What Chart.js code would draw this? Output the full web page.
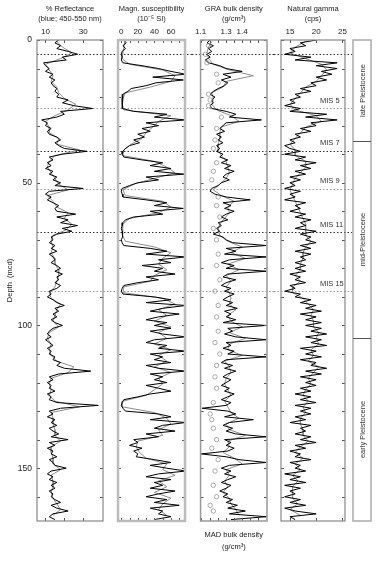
<!DOCTYPE html>
<html>
<head>
<meta charset="utf-8">
<script src="https://cdn.jsdelivr.net/npm/chart.js@4.4.1/dist/chart.umd.min.js"></script>
<style>
  html, body { margin: 0; padding: 0; background: #fff; }
  #figure { position: relative; width: 378px; height: 566px; }
  #figure canvas { position: absolute; top: 0; }
</style>
</head>
<body>
<div id="figure">
  <canvas id="panelRefl" width="110" height="566" style="left:0px"></canvas>
  <canvas id="panelMagsus" width="82" height="566" style="left:110px"></canvas>
  <canvas id="panelGra" width="82" height="566" style="left:192px"></canvas>
  <canvas id="panelGamma" width="104" height="566" style="left:274px"></canvas>
</div>
<script>
// depth of the first sample and spacing (mcd) for the black and grey records
const blackStart = 0, blackStep = 1;
const grayStart = 0.5, grayStep = 2;

// % reflectance (blue), one value per metre, 0-168 mcd
const reflBlack = [
  17,15,18,16,22,27,19,21,9,10,
  12,10,14,12,15,13,14,16,15,17,
  16,22,19,25,35,18,20,16,8,11,
  10,13,11,12,16,18,15,17,20,32,
  19,12,14,11,13,10,14,12,16,14,
  18,15,30,12,10,13,11,14,17,15,
  16,26,16,22,18,27,19,24,16,13,
  14,12,15,13,16,12,14,15,13,16,
  18,15,19,16,17,15,18,16,12,13,
  11,14,16,20,15,17,14,16,13,15,
  19,14,12,11,13,10,12,14,11,13,
  12,15,14,18,16,20,34,17,12,14,
  11,13,12,15,11,13,12,16,38,18,
  12,14,11,15,13,16,12,14,17,13,
  22,12,15,11,14,13,16,12,14,15,
  21,13,11,14,12,16,13,15,12,14,
  13,15,18,13,16,22,14,12,15
];
const reflGray = [
  16,19,24,18,10,12,14,13,16,17,
  20,26,22,15,10,12,12,17,16,28,
  15,12,11,13,15,17,22,11,14,16,
  22,20,24,21,14,13,14,13,15,15,
  17,17,16,15,12,13,18,16,15,14,
  17,12,11,13,12,13,16,25,22,13,
  12,13,12,15,28,13,14,14,15,15,
  18,13,13,14,14,18,13,14,14,13,
  14,16,18,14
];

// magnetic susceptibility (10^-5 SI)
const magBlack = [
  3,6,2,5,1,0,1,0,2,25,
  45,60,78,38,75,42,30,12,8,2,
  1,1,1,2,1,15,55,40,78,30,
  45,25,35,20,28,15,22,10,5,2,
  1,3,25,50,35,60,40,76,30,45,
  20,10,1,0,1,2,30,55,40,75,
  35,50,15,5,2,1,0,1,2,1,
  0,1,3,35,55,30,78,45,60,25,
  50,40,65,30,45,20,3,1,0,2,
  40,60,30,78,50,35,70,45,30,55,
  40,60,35,50,78,40,30,55,45,78,
  35,50,40,60,30,45,78,35,50,40,
  55,30,45,60,35,20,3,1,0,2,
  5,45,60,35,78,50,40,65,30,45,
  15,20,10,25,15,20,18,40,60,35,
  55,78,45,30,60,40,50,35,65,45,
  30,55,40,70,35,50,45,60,40
];
const magGray = [
  4,3,2,1,10,50,65,60,35,5,
  2,1,3,60,45,38,30,25,12,3,
  2,40,55,65,40,15,2,5,50,60,
  45,10,2,1,2,5,40,60,50,45,
  55,40,35,3,2,50,65,45,55,40,
  60,45,55,40,60,45,55,40,60,45,
  50,40,30,2,1,40,55,60,45,50,
  20,18,22,30,55,50,65,45,55,40,
  60,50,45,55
];

// GRA bulk density (g/cm3)
const graBlack = [
  1.20,1.18,1.22,1.19,1.21,1.18,1.20,1.17,1.19,1.26,
  1.30,1.40,1.28,1.33,1.27,1.31,1.29,1.25,1.22,1.20,
  1.23,1.21,1.22,1.20,1.21,1.30,1.36,1.32,1.52,1.30,
  1.28,1.26,1.29,1.24,1.27,1.25,1.28,1.24,1.26,1.24,
  1.28,1.26,1.31,1.27,1.33,1.29,1.35,1.30,1.28,1.32,
  1.27,1.25,1.21,1.20,1.23,1.30,1.45,1.28,1.33,1.29,
  1.35,1.30,1.27,1.31,1.25,1.27,1.24,1.26,1.22,1.28,
  1.30,1.34,1.55,1.30,1.36,1.29,1.55,1.32,1.27,1.35,
  1.30,1.55,1.31,1.28,1.36,1.30,1.27,1.33,1.29,1.35,
  1.31,1.28,1.34,1.30,1.37,1.29,1.33,1.30,1.36,1.28,
  1.55,1.31,1.34,1.29,1.36,1.55,1.30,1.33,1.28,1.35,
  1.31,1.55,1.30,1.27,1.34,1.29,1.36,1.31,1.28,1.33,
  1.30,1.27,1.32,1.29,1.35,1.31,1.27,1.33,1.30,1.15,
  1.31,1.36,1.29,1.47,1.32,1.28,1.34,1.30,1.36,1.55,
  1.29,1.33,1.30,1.35,1.31,1.145,1.30,1.38,1.55,1.32,
  1.27,1.33,1.29,1.36,1.31,1.27,1.33,1.30,1.26,1.31,
  1.28,1.34,1.30,1.37,1.31,1.42,1.32,1.55,1.33
];
const graGray = [
  1.21,1.19,1.18,1.19,1.22,1.32,1.47,1.30,1.28,1.21,
  1.22,1.21,1.24,1.33,1.38,1.27,1.26,1.26,1.25,1.25,
  1.27,1.30,1.31,1.32,1.30,1.26,1.22,1.27,1.35,1.31,
  1.32,1.29,1.26,1.25,1.26,1.31,1.40,1.33,1.42,1.31,
  1.38,1.30,1.33,1.30,1.32,1.33,1.32,1.36,1.31,1.33,
  1.40,1.32,1.42,1.32,1.31,1.40,1.29,1.32,1.33,1.30,
  1.29,1.31,1.33,1.29,1.31,1.33,1.38,1.30,1.32,1.42,
  1.31,1.32,1.28,1.35,1.40,1.30,1.32,1.29,1.31,1.28,
  1.32,1.33,1.36,1.38
];

// MAD bulk density discrete samples
const madDepths = [2,5,8,12,15,19,21,23,27,31,35,38,43,46,49,55,58,62,66,70,75,79,84,88,93,97,102,106,110,114,118,122,127,131,133,136,140,143,147,151,156,160,163,165];
const madDensity = [1.19,1.17,1.18,1.24,1.25,1.19,1.20,1.19,1.27,1.24,1.23,1.22,1.24,1.22,1.21,1.25,1.24,1.26,1.22,1.24,1.25,1.24,1.26,1.23,1.25,1.24,1.25,1.23,1.26,1.24,1.23,1.24,1.22,1.20,1.21,1.22,1.24,1.21,1.25,1.23,1.22,1.24,1.20,1.22];

// natural gamma (cps)
const gammaBlack = [
  20,17,18,15,16,14,19,16,24,20,
  24,21,23,20,22,19,20,17,19,16,
  17,15,16,14,17,15,22,18,24,19,
  20,17,19,16,17,15,16,14,15,17,
  14,18,16,20,17,19,16,18,15,17,
  15,16,14,17,15,16,14,18,16,17,
  15,18,16,19,17,18,16,20,17,19,
  18,20,17,19,16,19,17,18,16,18,
  16,18,15,17,16,18,15,16,14,17,
  16,19,17,20,18,21,17,20,18,21,
  18,21,19,22,18,21,19,22,17,20,
  18,21,17,20,19,22,18,21,17,20,
  18,20,17,19,16,19,17,20,16,19,
  17,19,16,18,15,19,17,18,16,19,
  17,20,16,18,15,17,16,19,15,17,
  16,18,14,17,15,18,14,17,15,16,
  14,17,15,18,14,16,20,15,16
];
const gammaGray = [
  18,16,15,18,21,22,21,20,18,17,
  16,15,16,20,21,18,17,16,15,16,
  16,18,18,17,16,15.5,15,15.5,16,16.5,
  17,17.5,18,18,18,19,18,17.5,17.5,17,
  17,16,17,15.5,15.5,17.5,18.5,19.5,19,19.5,
  19.5,20.5,20,20.5,19,19.5,18.5,20.5,19.5,18.5,
  19,18,17.5,18.5,17.5,18,17,17,17.5,17.5,
  18.5,17,16,17.5,16,17,15.5,16.5,15.5,15.5,
  15.5,16.5,15,17
];

// depth axis, dotted correlation lines, MIS labels, epochs
const depthTicks = [0,10,20,30,40,50,60,70,80,90,100,110,120,130,140,150,160];
const depthLabels = [0,50,100,150];
const markerDepths = [4.9, 23.9, 38.9, 52.2, 67.3, 87.9];
const markerShades = ['#333','#999','#333','#999','#333','#999'];
const misLabels = ['MIS 5','MIS 7','MIS 9','MIS 11','MIS 15'];
const misDepths = [21.4, 36.2, 49.4, 64.8, 85.5];
const epochNames = ['late Pleistocene','mid-Pleistocene','early Pleistocene'];
const epochBounds = [0, 35.4, 104.4, 168.5];

// top axis ticks
const reflTicks = [10,20,30], reflTickLabels = ['10','','30'];
const magTicks = [0,10,20,30,40,50,60,70], magTickLabels = ['0','','20','','40','','60',''];
const graTicks = [1.14,1.2,1.25,1.3,1.35,1.4,1.45,1.5], graTickLabels = ['1.1','','','1.3','','1.4','',''];
const gammaTicks = [15,20,25], gammaTickLabels = ['15','20','25'];

const FONT = "'Liberation Sans', Arial, sans-serif";
const DEPTH_MAX = 168.5;

function toPoints(values, start, step) {
  return values.map((v, i) => ({ x: v, y: start + i * step }));
}

// frame, inward ticks, dotted lines and annotations for each panel
const panelDecor = {
  id: 'panelDecor',
  beforeDatasetsDraw(chart, args, o) {
    const { ctx, chartArea: a } = chart;
    const yS = chart.scales.y;
    ctx.save();
    ctx.lineWidth = 1;
    ctx.setLineDash([1.5, 2]);
    markerDepths.forEach((d, i) => {
      const py = Math.round(yS.getPixelForValue(d)) + 0.5;
      ctx.strokeStyle = markerShades[i];
      ctx.beginPath();
      ctx.moveTo(o.fromArea ? a.left : 0, py);
      ctx.lineTo(o.lineEnd || chart.width, py);
      ctx.stroke();
    });
    ctx.restore();
  },
  afterDatasetsDraw(chart, args, o) {
    const { ctx, chartArea: a } = chart;
    const xS = chart.scales.x, yS = chart.scales.y;
    ctx.save();
    ctx.strokeStyle = '#555';
    ctx.lineWidth = 1;
    ctx.beginPath();
    depthTicks.forEach(d => {
      const py = Math.round(yS.getPixelForValue(d)) + 0.5;
      ctx.moveTo(a.left, py); ctx.lineTo(a.left + 3, py);
      ctx.moveTo(a.right - 3, py); ctx.lineTo(a.right, py);
    });
    xS.ticks.forEach(t => {
      const px = Math.round(xS.getPixelForValue(t.value)) + 0.5;
      ctx.moveTo(px, a.top); ctx.lineTo(px, a.top + 3);
      ctx.moveTo(px, a.bottom - 3); ctx.lineTo(px, a.bottom);
    });
    ctx.stroke();

    ctx.strokeStyle = o.frameColor || '#999';
    ctx.lineWidth = o.frameWidth || 1.5;
    ctx.strokeRect(a.left, a.top, a.right - a.left, a.bottom - a.top);

    ctx.fillStyle = '#333';
    ctx.font = '7.5px ' + FONT;
    if (o.mis) {
      ctx.textAlign = 'left';
      ctx.textBaseline = 'middle';
      misLabels.forEach((t, i) => ctx.fillText(t, a.left + 39, yS.getPixelForValue(misDepths[i])));
    }
    if (o.epochBox) {
      const [x0, x1] = o.epochBox;
      const top = yS.getPixelForValue(epochBounds[0]);
      const bot = yS.getPixelForValue(epochBounds[epochBounds.length - 1]);
      ctx.strokeStyle = '#aaa';
      ctx.lineWidth = 1.5;
      ctx.strokeRect(x0, top, x1 - x0, bot - top);
      ctx.strokeStyle = '#555';
      ctx.lineWidth = 1;
      for (let i = 1; i < epochBounds.length - 1; i++) {
        const py = Math.round(yS.getPixelForValue(epochBounds[i])) + 0.5;
        ctx.beginPath(); ctx.moveTo(x0, py); ctx.lineTo(x1, py); ctx.stroke();
      }
      ctx.textAlign = 'center';
      ctx.textBaseline = 'middle';
      epochNames.forEach((name, i) => {
        const mid = (yS.getPixelForValue(epochBounds[i]) + yS.getPixelForValue(epochBounds[i + 1])) / 2;
        ctx.save();
        ctx.translate((x0 + x1) / 2 + 0.5, mid);
        ctx.rotate(-Math.PI / 2);
        ctx.fillText(name, 0, 0);
        ctx.restore();
      });
    }
    ctx.restore();
  }
};

function makePanel(canvasId, p) {
  const datasets = [];
  if (p.circles) {
    datasets.push({
      data: p.circles, xAxisID: 'x2', showLine: false,
      pointRadius: 2.2, pointBorderWidth: 0.7,
      pointBorderColor: '#888', pointBackgroundColor: 'rgba(0,0,0,0)'
    });
  }
  datasets.push({
    data: toPoints(p.black, blackStart, blackStep), showLine: true,
    borderColor: '#000', borderWidth: 1, pointRadius: 0, tension: 0
  });
  datasets.push({
    data: toPoints(p.gray, grayStart, grayStep), showLine: true,
    borderColor: '#8c8c8c', borderWidth: 1, pointRadius: 0, tension: 0
  });

  const setTicks = (vals) => (s) => { s.ticks = vals.map(v => ({ value: v })); };
  const xAxis = {
    type: 'linear', position: 'top', min: p.min, max: p.max,
    afterBuildTicks: setTicks(p.ticks),
    afterFit: (s) => { s.height = 40; },
    grid: { display: false, drawTicks: false },
    border: { display: false },
    ticks: {
      autoSkip: false, maxRotation: 0, padding: 3, color: '#222',
      font: { family: FONT, size: 8 },
      callback: (v, i) => p.tickLabels[i]
    },
    title: {
      display: true, text: p.title, color: '#222',
      font: { family: FONT, size: 7.5, lineHeight: 1.45 },
      padding: { top: 3, bottom: 0 }
    }
  };
  const yAxis = {
    type: 'linear', reverse: true, min: 0, max: DEPTH_MAX,
    display: !!p.depthAxis,
    afterBuildTicks: setTicks(depthTicks),
    grid: { display: false, drawTicks: false },
    border: { display: false },
    ticks: {
      autoSkip: false, padding: 5, color: '#222',
      font: { family: FONT, size: 8.5 },
      callback: (v) => depthLabels.includes(v) ? String(v) : ''
    },
    title: {
      display: true, text: 'Depth  (mcd)', color: '#222',
      font: { family: FONT, size: 7.5 },
      padding: { top: 5, bottom: 0 }
    }
  };
  if (p.depthAxis) yAxis.afterFit = (s) => { s.width = 37; };
  const scales = { x: xAxis, y: yAxis };
  if (p.bottomAxis) {
    scales.x2 = {
      type: 'linear', position: 'bottom', min: p.min, max: p.max,
      afterBuildTicks: setTicks(p.ticks),
      afterFit: (s) => { s.height = 45; },
      grid: { display: false, drawTicks: false },
      border: { display: false },
      ticks: { display: false },
      title: {
        display: true, text: p.bottomAxis, color: '#222',
        font: { family: FONT, size: 7.5, lineHeight: 1.6 },
        padding: { top: 0, bottom: 13 }
      }
    };
  }

  return new Chart(document.getElementById(canvasId), {
    type: 'scatter',
    data: { datasets },
    options: {
      responsive: false, animation: false, devicePixelRatio: 1,
      layout: { padding: { left: p.pad[0], right: p.pad[1], top: 0, bottom: p.bottomAxis ? 0 : 45 } },
      scales,
      plugins: {
        legend: { display: false },
        tooltip: { enabled: false },
        panelDecor: p.decor
      }
    },
    plugins: [panelDecor]
  });
}

makePanel('panelRefl', {
  title: ['% Reflectance', '(blue; 450-550 nm)'],
  black: reflBlack, gray: reflGray, min: 5.5, max: 40.5,
  ticks: reflTicks, tickLabels: reflTickLabels,
  depthAxis: true, pad: [0, 7],
  decor: { fromArea: true, frameColor: '#888', frameWidth: 1.2 }
});

makePanel('panelMagsus', {
  title: ['Magn. susceptibility', '(10\u207B\u2075 SI)'],
  black: magBlack, gray: magGray, min: -4, max: 77,
  ticks: magTicks, tickLabels: magTickLabels, pad: [8, 7],
  decor: { frameColor: '#bbb', frameWidth: 2.5 }
});

makePanel('panelGra', {
  title: ['GRA bulk density', '(g/cm\u00B3)'],
  black: graBlack, gray: graGray, min: 1.14, max: 1.555,
  ticks: graTicks, tickLabels: graTickLabels, pad: [6, 7],
  circles: madDensity.map((v, i) => ({ x: v, y: madDepths[i] })),
  bottomAxis: ['MAD bulk density', '(g/cm\u00B3)'],
  decor: { frameColor: '#999', frameWidth: 1.5 }
});

makePanel('panelGamma', {
  title: ['Natural gamma', '(cps)'],
  black: gammaBlack, gray: gammaGray, min: 13.3, max: 25.5,
  ticks: gammaTicks, tickLabels: gammaTickLabels, pad: [7, 33],
  decor: { frameColor: '#888', frameWidth: 1.2, lineEnd: 78, mis: true, epochBox: [79, 97] }
});
</script>
</body>
</html>
